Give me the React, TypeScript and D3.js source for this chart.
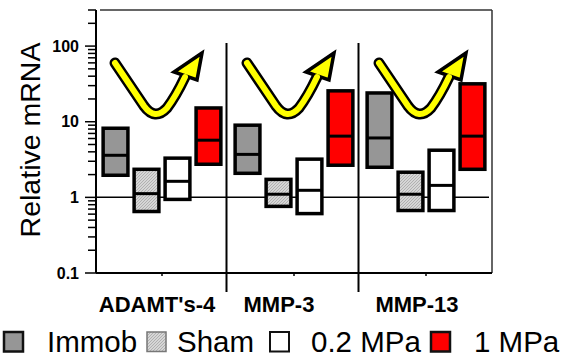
import React from 'react';
import * as d3 from 'd3';

const categories = ["ADAMT's-4", 'MMP-3', 'MMP-13'];
const groups = ['Immob', 'Sham', '0.2 MPa', '1 MPa'];

// low / median / high per category
const immobLow = [1.96, 2.08, 2.5];
const immobMed = [3.6, 3.7, 6.1];
const immobHigh = [8.2, 9.0, 24];
const shamLow = [0.65, 0.76, 0.67];
const shamMed = [1.12, 1.1, 1.1];
const shamHigh = [2.35, 1.73, 2.15];
const lowPLow = [0.94, 0.61, 0.67];
const lowPMed = [1.63, 1.24, 1.44];
const lowPHigh = [3.3, 3.2, 4.2];
const highPLow = [2.74, 2.66, 2.35];
const highPMed = [5.7, 6.45, 6.45];
const highPHigh = [15.2, 25.6, 31.7];

const majorTicks = [0.1, 1, 10, 100];
const majorLabels = ['0.1', '1', '10', '100'];

const W = 568;
const H = 358;
const FONT = '"Liberation Sans", Arial, sans-serif';

const left = 96, right = 492, top = 10, bottom = 273;
const labelDx = [-5, -15, -9];

const fills: Record<string, string> = {
  Immob: '#969696',
  Sham: 'url(#hatch)',
  '0.2 MPa': '#ffffff',
  '1 MPa': '#ff0000',
};

const series = [
  { name: 'Immob', low: immobLow, med: immobMed, high: immobHigh },
  { name: 'Sham', low: shamLow, med: shamMed, high: shamHigh },
  { name: '0.2 MPa', low: lowPLow, med: lowPMed, high: lowPHigh },
  { name: '1 MPa', low: highPLow, med: highPMed, high: highPHigh },
];

export default function App() {
  const y = d3.scaleLog().domain([0.1, 300]).range([bottom, top]);
  const x = d3.scaleBand<string>().domain(categories).range([left, right]);
  const xi = d3
    .scaleBand<string>()
    .domain(groups)
    .range([0, x.bandwidth()])
    .paddingInner(0.2)
    .paddingOuter(0.23);

  const allTicks = y.ticks();

  // legend placement
  const legend = [
    { name: 'Immob', sx: 4, tx: 47, stroke: '#111', sw: 2.5 },
    { name: 'Sham', sx: 147, tx: 177, stroke: '#777', sw: 1.5 },
    { name: '0.2 MPa', sx: 270, tx: 311, stroke: '#111', sw: 2 },
    { name: '1 MPa', sx: 431, tx: 474, stroke: '#111', sw: 2.5 },
  ];

  return (
    <svg
      width={W}
      height={H}
      style={{ position: 'absolute', left: 0, top: 0, background: '#fff' }}
      fontFamily={FONT}
    >
      <defs>
        <pattern id="hatch" width="3" height="3" patternUnits="userSpaceOnUse">
          <rect width="3" height="3" fill="#d6d6d6" />
          <path d="M0,3 L3,0" stroke="#a6a6a6" strokeWidth="0.8" />
        </pattern>
      </defs>

      {/* frame */}
      <line x1={100} x2={right} y1={top} y2={top} stroke="#333" strokeWidth={1.5} />
      <line x1={right} x2={right} y1={top} y2={bottom} stroke="#333" strokeWidth={1.5} />
      <line x1={left} x2={right} y1={bottom} y2={bottom} stroke="#000" strokeWidth={2} />
      <line x1={left} x2={left} y1={top} y2={bottom} stroke="#000" strokeWidth={2} />

      {/* y ticks */}
      {allTicks.map((t, i) => {
        const major = majorTicks.includes(+t.toPrecision(3));
        return (
          <line
            key={i}
            x1={major ? left - 11 : left - 8}
            x2={left}
            y1={y(t)}
            y2={y(t)}
            stroke="#000"
            strokeWidth={1.5}
          />
        );
      })}
      {majorTicks.map((t, i) => (
        <text
          key={i}
          x={79}
          y={y(t)}
          dy="0.36em"
          textAnchor="end"
          fontSize={16}
          fontWeight="bold"
        >
          {majorLabels[i]}
        </text>
      ))}

      {/* bottom ticks */}
      {categories.map((c) => (
        <line
          key={c}
          x1={x(c)! + x.bandwidth() / 2}
          x2={x(c)! + x.bandwidth() / 2}
          y1={bottom}
          y2={bottom + 3}
          stroke="#000"
          strokeWidth={1.5}
        />
      ))}

      {/* dividers */}
      {categories.slice(1).map((c) => (
        <line
          key={c}
          x1={x(c)! - 1.5}
          x2={x(c)! - 1.5}
          y1={43}
          y2={292}
          stroke="#000"
          strokeWidth={2}
        />
      ))}

      {/* reference line at 1 */}
      <line x1={left} x2={489} y1={y(1)} y2={y(1)} stroke="#000" strokeWidth={1.5} />

      {/* boxes */}
      {categories.map((c, ci) =>
        series.map((s) => {
          const bx = x(c)! + xi(s.name)!;
          const bw = xi.bandwidth();
          return (
            <g key={c + s.name}>
              <rect
                x={bx}
                y={y(s.high[ci])}
                width={bw}
                height={y(s.low[ci]) - y(s.high[ci])}
                fill={fills[s.name]}
                stroke="#000"
                strokeWidth={3.5}
              />
              <line
                x1={bx - 1}
                x2={bx + bw + 1}
                y1={y(s.med[ci])}
                y2={y(s.med[ci])}
                stroke="#000"
                strokeWidth={3}
              />
            </g>
          );
        })
      )}

      {/* yellow arrows */}
      {categories.map((c) => {
        const x0 = x(c)!;
        const shaft = 'M19,63 L48,106 Q59,121 71,108 Q80,96 89,77';
        return (
          <g key={c} transform={`translate(${x0},0)`}>
            <path d={shaft} fill="none" stroke="#000" strokeWidth={11} strokeLinecap="round" strokeLinejoin="round" />
            <path d="M106,53 L78,72 L101,80 Z" fill="#ffff00" stroke="#000" strokeWidth={3.5} strokeLinejoin="miter" />
            <path d={shaft} fill="none" stroke="#ffff00" strokeWidth={6} strokeLinecap="round" strokeLinejoin="round" />
          </g>
        );
      })}

      {/* category labels */}
      {categories.map((c, i) => (
        <text
          key={c}
          x={x(c)! + x.bandwidth() / 2 + labelDx[i]}
          y={312}
          textAnchor="middle"
          fontSize={22}
          fontWeight="bold"
        >
          {c}
        </text>
      ))}

      {/* y label */}
      <text transform="translate(40,140) rotate(-90)" textAnchor="middle" fontSize={28.5}>
        Relative mRNA
      </text>

      {/* legend */}
      {legend.map((l) => (
        <g key={l.name}>
          <rect x={l.sx} y={332} width={19} height={19.5} fill={fills[l.name]} stroke={l.stroke} strokeWidth={l.sw} />
          <text x={l.tx} y={352} fontSize={29.5}>
            {l.name}
          </text>
        </g>
      ))}
    </svg>
  );
}
